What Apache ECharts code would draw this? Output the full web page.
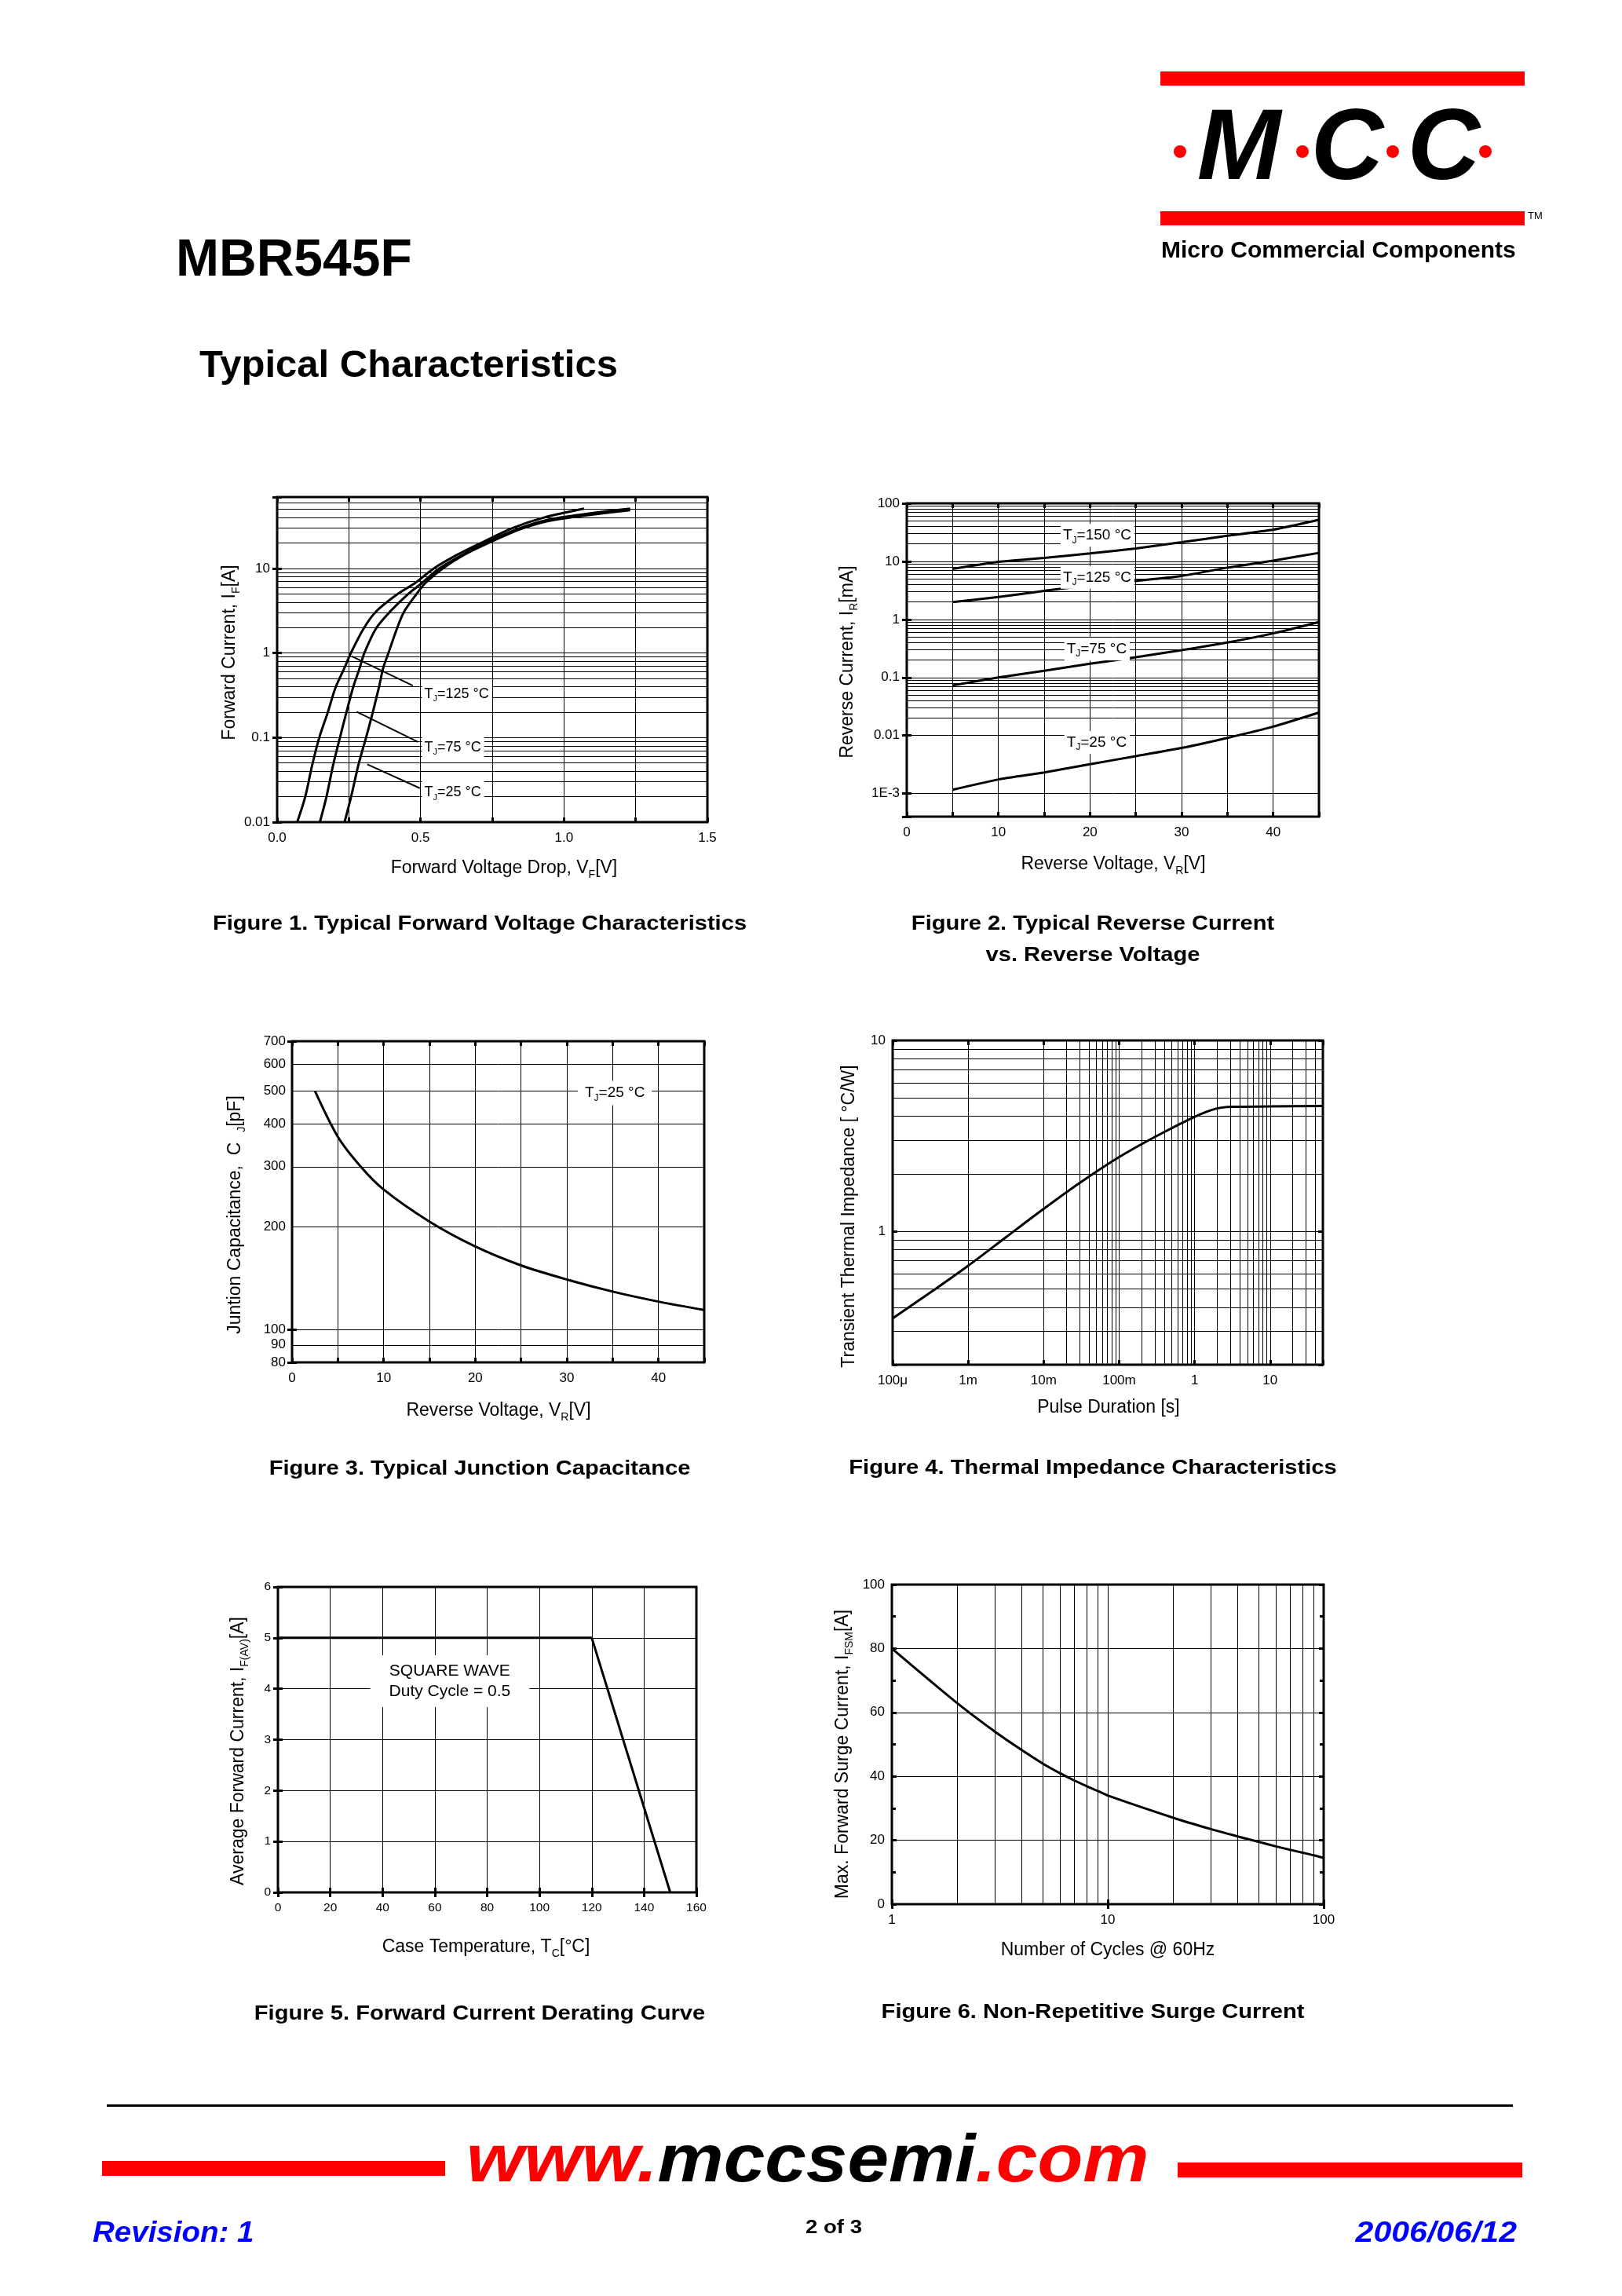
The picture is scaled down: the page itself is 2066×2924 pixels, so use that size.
<!DOCTYPE html>
<html><head><meta charset="utf-8">
<script src="https://cdn.jsdelivr.net/npm/echarts@6.0.0/dist/echarts.min.js"></script>
<style>html,body{margin:0;padding:0;background:#fff}#main{width:2066px;height:2924px}</style>
</head><body><div id="main"></div>
<script>
// ---------------- DATA ----------------
// Figure 1 – forward characteristics (V, A)
const fig1V_125 = [0.07,0.098,0.122,0.147,0.176,0.204,0.235,0.257,0.302,0.345,0.418,0.48,0.546,0.626,0.71,0.82,0.93,1.07];
const fig1I_125 = [0.01,0.02,0.047,0.1,0.196,0.394,0.67,1,1.96,3.1,4.93,6.7,10,14.4,20,30,40,51];
const fig1V_75  = [0.149,0.172,0.195,0.219,0.241,0.265,0.288,0.304,0.345,0.394,0.455,0.504,0.565,0.644,0.724,0.846,0.968,1.231];
const fig1I_75  = [0.01,0.02,0.047,0.1,0.196,0.394,0.67,1,1.96,3.1,4.93,6.7,10,14.4,20,30,39,51];
const fig1V_25  = [0.235,0.258,0.283,0.31,0.333,0.355,0.37,0.388,0.418,0.443,0.485,0.516,0.577,0.65,0.736,0.858,0.968,1.231];
const fig1I_25  = [0.01,0.02,0.047,0.1,0.196,0.394,0.67,1,1.96,3.1,4.93,6.7,10,14.4,20,30,37.7,49];
const fig1XTicks = [0,0.5,1,1.5];
const fig1XLabels = ['0.0','0.5','1.0','1.5'];
const fig1YTicks = [0.01,0.1,1,10];
const fig1YLabels = ['0.01','0.1','1','10'];
const fig1MinorY = [0.02,0.03,0.04,0.05,0.06,0.07,0.08,0.09,0.2,0.3,0.4,0.5,0.6,0.7,0.8,0.9,2,3,4,5,6,7,8,9,20,30,40,50,60];
const fig1Temps = ['125','75','25'];

// Figure 2 – reverse current (V, mA)
const fig2V = [5,10,15,20,25,30,35,40,45];
const fig2I_150 = [7.4,9.8,11.5,13.7,16.7,21.4,27.6,35.2,52];
const fig2I_125 = [1.99,2.43,3.1,3.9,4.6,5.6,7.8,10.3,14];
const fig2I_75  = [0.073,0.1,0.13,0.172,0.223,0.295,0.4,0.575,0.9];
const fig2I_25  = [0.00116,0.00175,0.0023,0.0032,0.0044,0.0061,0.0091,0.0142,0.0248];
const fig2XTicks = [0,10,20,30,40];
const fig2XLabels = ['0','10','20','30','40'];
const fig2YTicks = [0.001,0.01,0.1,1,10,100];
const fig2YLabels = ['1E-3','0.01','0.1','1','10','100'];
const fig2MinorY = [0.0005,0.0006,0.0007,0.0008,0.0009,0.002,0.003,0.004,0.005,0.006,0.007,0.008,0.009,0.02,0.03,0.04,0.05,0.06,0.07,0.08,0.09,0.2,0.3,0.4,0.5,0.6,0.7,0.8,0.9,2,3,4,5,6,7,8,9,20,30,40,50,60,70,80,90];
const fig2Temps = ['150','125','75','25'];

// Figure 3 – junction capacitance (V, pF)
const fig3V = [2.5,5,7.5,10,15,20,25,30,35,40,45];
const fig3C = [500,367,300,257,207,175,154,140,129,120.6,114];
const fig3YTicks = [80,90,100,200,300,400,500,600,700];
const fig3YLabels = ['80','90','100','200','300','400','500','600','700'];

// Figure 4 – transient thermal impedance (s, °C/W)
const fig4T = [0.0001,0.000297,0.001,0.00316,0.01,0.0305,0.1,0.31,1,1.89,3.14,10,50];
const fig4Z = [0.35,0.47,0.66,0.93,1.31,1.8,2.45,3.15,3.98,4.38,4.49,4.51,4.53];
const fig4XTicks = [0.0001,0.001,0.01,0.1,1,10];
const fig4XLabels = ['100\u03bc','1m','10m','100m','1','10'];
const fig4YTicks = [1,10];
const fig4YLabels = ['1','10'];
const fig4MinorY = [0.3,0.4,0.5,0.6,0.7,0.8,0.9,2,3,4,5,6,7,8,9];
const fig4MinorX = [0.0002,0.0003,0.0004,0.0005,0.0006,0.0007,0.0008,0.0009,0.002,0.003,0.004,0.005,0.006,0.007,0.008,0.009,0.02,0.03,0.04,0.05,0.06,0.07,0.08,0.09,0.2,0.3,0.4,0.5,0.6,0.7,0.8,0.9,2,3,4,5,6,7,8,9,20,30,40];

// Figure 5 – derating (°C, A)
const fig5T = [0,120,150];
const fig5I = [5,5,0];

// Figure 6 – surge current (cycles, A)
const fig6N = [1,2,3,4,5,6,7,8,9,10,20,30,40,50,60,70,80,90,100];
const fig6I = [80,63,54,48.2,44.0,41.0,38.7,36.9,35.4,34,27.1,23.5,21.2,19.5,18.1,17.0,16.1,15.3,14.5];
const fig6XTicks = [1,10,100];
const fig6XLabels = ['1','10','100'];
const fig6MinorX = [2,3,4,5,6,7,8,9,20,30,40,50,60,70,80,90];

// ---------------- BUILD ----------------
const BLACK = '#000000', RED = '#FF0000', BLUE = '#0000FF';
const FF = '"Liberation Sans", Arial, Helvetica, sans-serif';
const TICK = {show:true, inside:true, length:6, lineStyle:{color:BLACK, width:3}};
const GRIDLINE = {show:true, lineStyle:{color:BLACK, width:1, type:'solid'}};

function fmtFrom(ticks, labels) {
  return function (v) {
    for (let i = 0; i < ticks.length; i++) {
      const t = ticks[i];
      if (t === 0 ? Math.abs(v) < 1e-9 : Math.abs(v / t - 1) < 1e-6) return labels[i];
    }
    return '';
  };
}

const grids = [], xAxes = [], yAxes = [], series = [];

function addGrid(rect, xBase, yBase, o) {
  o = o || {};
  const g = grids.length;
  grids.push(Object.assign({show:true, borderColor:BLACK, borderWidth:3, backgroundColor:'rgba(0,0,0,0)', containLabel:false, outerBoundsMode:'none'}, rect));
  const lab = (extra, margin) => Object.assign({show:true, color:BLACK, fontFamily:FF, fontSize:o.fs || 17, margin:margin, hideOverlap:false}, extra || {});
  const minor = o.yMinor ? {show:true, splitNumber:o.yMinor, length:5, lineStyle:{color:BLACK, width:3}} : {show:false};
  xAxes.push(Object.assign({}, xBase, {gridIndex:g, position:'bottom', axisLine:{show:false}, axisTick:TICK, axisLabel:lab(o.xLabel, 12), splitLine:GRIDLINE}));
  xAxes.push(Object.assign({}, xBase, {gridIndex:g, position:'top', axisLine:{show:false}, axisTick:TICK, axisLabel:{show:false}, splitLine:{show:false}}));
  yAxes.push(Object.assign({}, yBase, {gridIndex:g, position:'left', axisLine:{show:false}, axisTick:TICK, minorTick:minor,
    axisLabel: o.yLabel === false ? {show:false} : lab(o.yLabel, 9),
    splitLine: o.ySplit === false ? {show:false} : GRIDLINE}));
  yAxes.push(Object.assign({}, yBase, {gridIndex:g, position:'right', axisLine:{show:false}, axisTick:TICK, minorTick:minor, axisLabel:{show:false}, splitLine:{show:false}}));
  return g;
}

function curve(g, xs, ys, extra) {
  return Object.assign({
    type:'line', xAxisIndex:2*g, yAxisIndex:2*g,
    data: xs.map((x, i) => [x, ys[i]]),
    symbol:'none', showSymbol:false, silent:true, z:3,
    lineStyle:{color:BLACK, width:3}, itemStyle:{color:BLACK},
    smooth:0.3, emphasis:{disabled:true}
  }, extra || {});
}

function gridMarks(yVals, xVals, label) {
  return {
    silent:true, symbol:['none','none'], z:1, animation:false, emphasis:{disabled:true},
    label: label || {show:false},
    lineStyle:{color:BLACK, width:1, type:'solid'},
    data: [].concat((yVals || []).map(v => ({yAxis:v})), (xVals || []).map(v => ({xAxis:v})))
  };
}

function tjNotes(items, fs) {
  return {
    silent:true, z:10, symbol:'circle', symbolSize:0, animation:false, emphasis:{disabled:true},
    itemStyle:{color:'rgba(0,0,0,0)'},
    label:{show:true, position:'right', distance:0, backgroundColor:'#ffffff', padding:[2,4,2,3],
      rich:{
        a:{fontSize:fs, fontFamily:FF, color:BLACK, lineHeight:fs + 6},
        s:{fontSize:Math.round(fs * 0.62), fontFamily:FF, color:BLACK, verticalAlign:'bottom'}
      }},
    data: items.map(it => ({coord:it.coord, label:{formatter:'{a|T}{s|J}{a|=' + it.t + ' \u00b0C}'}}))
  };
}

// ---- Figure 1 ----
const g1 = addGrid({left:353, top:633, width:548, height:414},
  {type:'value', min:0, max:1.5, interval:0.25},
  {type:'log', logBase:10, min:0.01, max:70},
  {xLabel:{formatter:fmtFrom(fig1XTicks, fig1XLabels)}, yLabel:{formatter:fmtFrom(fig1YTicks, fig1YLabels)}});
series.push(curve(g1, fig1V_125, fig1I_125, {markLine:gridMarks(fig1MinorY)}));
series.push(curve(g1, fig1V_75, fig1I_75, {markLine:{
  silent:true, z:6, animation:false, symbol:['none','arrow'], symbolSize:[0,13], emphasis:{disabled:true},
  label:{show:false}, lineStyle:{color:BLACK, width:2, type:'solid'},
  data:[
    [{coord:[0.473,0.412]},{coord:[0.259,0.92]}],
    [{coord:[0.491,0.089]},{coord:[0.277,0.202]}],
    [{coord:[0.4976,0.0252]},{coord:[0.314,0.0483]}]
  ]}}));
series.push(curve(g1, fig1V_25, fig1I_25, {markPoint:tjNotes([
  {coord:[0.505,0.327], t:fig1Temps[0]},
  {coord:[0.505,0.0766], t:fig1Temps[1]},
  {coord:[0.505,0.0225], t:fig1Temps[2]}], 18)}));

// ---- Figure 2 ----
const g2 = addGrid({left:1155, top:641, width:525, height:399},
  {type:'value', min:0, max:45, interval:5},
  {type:'log', logBase:10, min:0.0004, max:100},
  {xLabel:{formatter:fmtFrom(fig2XTicks, fig2XLabels)}, yLabel:{formatter:fmtFrom(fig2YTicks, fig2YLabels)}});
series.push(curve(g2, fig2V, fig2I_150, {smooth:0.2, markLine:gridMarks(fig2MinorY)}));
series.push(curve(g2, fig2V, fig2I_125, {smooth:0.2, markPoint:tjNotes([
  {coord:[16.8,28], t:fig2Temps[0]},
  {coord:[16.8,5.3], t:fig2Temps[1]},
  {coord:[17.2,0.31], t:fig2Temps[2]},
  {coord:[17.2,0.0076], t:fig2Temps[3]}], 19)}));
series.push(curve(g2, fig2V, fig2I_75, {smooth:0.2}));
series.push(curve(g2, fig2V, fig2I_25, {smooth:0.2}));

// ---- Figure 3 ----
const g3 = addGrid({left:372, top:1326, width:525, height:409},
  {type:'value', min:0, max:45, interval:5},
  {type:'log', logBase:10, min:80, max:700},
  {xLabel:{formatter:fmtFrom(fig2XTicks, fig2XLabels)}, yLabel:false, ySplit:false});
const fig3Marks = gridMarks([], [], {show:true, position:'start', distance:8, color:BLACK, fontFamily:FF, fontSize:17, formatter:'{b}'});
fig3Marks.data = fig3YTicks.map((v, i) => ({yAxis:v, name:fig3YLabels[i]}));
const fig3Note = tjNotes([{coord:[31.2,493], t:'25'}], 19);
fig3Note.label.padding = [3,9,3,9];
series.push(curve(g3, fig3V, fig3C, {smooth:0.3, markLine:fig3Marks, markPoint:fig3Note}));

// ---- Figure 4 ----
const g4 = addGrid({left:1137, top:1325, width:548, height:413},
  {type:'log', logBase:10, min:0.0001, max:50},
  {type:'log', logBase:10, min:0.2, max:10},
  {xLabel:{formatter:fmtFrom(fig4XTicks, fig4XLabels)}, yLabel:{formatter:fmtFrom(fig4YTicks, fig4YLabels)}});
series.push(curve(g4, fig4T, fig4Z, {smooth:0.3, markLine:gridMarks(fig4MinorY, fig4MinorX)}));

// ---- Figure 5 ----
const g5 = addGrid({left:354, top:2021, width:533, height:389},
  {type:'value', min:0, max:160, interval:20},
  {type:'value', min:0, max:6, interval:1},
  {fs:15.5});
series.push(curve(g5, fig5T, fig5I, {smooth:false, markPoint:{
  silent:true, z:10, symbol:'circle', symbolSize:0, animation:false, emphasis:{disabled:true},
  itemStyle:{color:'rgba(0,0,0,0)'},
  label:{show:true, position:'inside', backgroundColor:'#ffffff', padding:[7,24,7,24],
    color:BLACK, fontFamily:FF, fontSize:21, lineHeight:26, align:'center',
    formatter:'SQUARE WAVE\nDuty Cycle = 0.5'},
  data:[{coord:[65.7,4.15]}]}}));

// ---- Figure 6 ----
const g6 = addGrid({left:1136, top:2018, width:550, height:407},
  {type:'log', logBase:10, min:1, max:100},
  {type:'value', min:0, max:100, interval:20},
  {xLabel:{formatter:fmtFrom(fig6XTicks, fig6XLabels)}, yMinor:2});
series.push(curve(g6, fig6N, fig6I, {smooth:0.3, markLine:gridMarks([], fig6MinorX)}));

// ---------------- PAGE TEXT / GRAPHICS ----------------
const gr = [];
function txt(x, y, text, st, el) {
  const style = Object.assign({text:text, fill:BLACK, fontFamily:FF, fontSize:20, fontWeight:'normal',
    align:'left', textAlign:'left', verticalAlign:'middle', textVerticalAlign:'middle'}, st || {});
  if (style.align) style.textAlign = style.align;
  gr.push(Object.assign({type:'text', x:x, y:y, silent:true, z:50, style:style}, el || {}));
}
function richTitle(x, y, parts, rotate) {
  const s = parts.map(p => (p[1] ? '{s|' : '{a|') + p[0] + '}').join('');
  txt(x, y, s, {align:'center', rich:{
    a:{fontSize:23, fontFamily:FF, fill:BLACK, lineHeight:30},
    s:{fontSize:14, fontFamily:FF, fill:BLACK, verticalAlign:'bottom'}
  }}, rotate ? {rotation:Math.PI / 2} : {});
}
function rect(x, y, w, h, fill) {
  gr.push({type:'rect', silent:true, z:40, shape:{x:x, y:y, width:w, height:h}, style:{fill:fill}});
}

// header
txt(224, 333, 'MBR545F', {fontSize:66, fontWeight:'bold'});
txt(254, 466, 'Typical Characteristics', {fontSize:49, fontWeight:'bold'});

// logo
rect(1478, 91, 464, 18, RED);
rect(1478, 269, 464, 18, RED);
[1503, 1659, 1774, 1892].forEach(cx => gr.push({type:'circle', silent:true, z:40, shape:{cx:cx, cy:193, r:8}, style:{fill:RED}}));
[['M',1578],['C',1716],['C',1839]].forEach(p => txt(p[1], 193, p[0], {fontSize:128, fontWeight:'bold', fontStyle:'italic', align:'center'}));
txt(1946, 275, 'TM', {fontSize:13});
txt(1479, 320, 'Micro Commercial Components', {fontSize:30, fontWeight:'bold'});

// axis titles
richTitle(642, 1106, [['Forward Voltage Drop, V'],['F',1],['[V]']]);
richTitle(293, 831, [['Forward Current, I'],['F',1],['[A]']], true);
richTitle(1418, 1101, [['Reverse Voltage, V'],['R',1],['[V]']]);
richTitle(1080, 843, [['Reverse Current, I'],['R',1],['[mA]']], true);
richTitle(635, 1797, [['Reverse Voltage, V'],['R',1],['[V]']]);
richTitle(300, 1547, [['Juntion Capacitance,  C  '],['J',1],['[pF]']], true);
richTitle(1412, 1793, [['Pulse Duration [s]']]);
richTitle(1082, 1549, [['Transient Thermal Impedance [ \u00b0C/W]']], true);
richTitle(619, 2480, [['Case Temperature, T'],['C',1],['[\u00b0C]']]);
richTitle(304, 2230, [['Average Forward Current, I'],['F(AV)',1],['[A]']], true);
richTitle(1411, 2484, [['Number of Cycles @ 60Hz']]);
richTitle(1074, 2234, [['Max. Forward Surge Current, I'],['FSM',1],['[A]']], true);

// figure captions
const cap = {fontSize:26, fontWeight:'bold', align:'center'};
txt(611, 1177, 'Figure 1. Typical Forward Voltage Characteristics', cap, {scaleX:1.12});
txt(1392, 1177, 'Figure 2. Typical Reverse Current', cap, {scaleX:1.12});
txt(1392, 1217, 'vs. Reverse Voltage', cap, {scaleX:1.12});
txt(611, 1871, 'Figure 3. Typical Junction Capacitance', cap, {scaleX:1.12});
txt(1392, 1870, 'Figure 4. Thermal Impedance Characteristics', cap, {scaleX:1.12});
txt(611, 2565, 'Figure 5. Forward Current Derating Curve', cap, {scaleX:1.12});
txt(1392, 2563, 'Figure 6. Non-Repetitive Surge Current', cap, {scaleX:1.12});

// footer
rect(136, 2680, 1791, 3, BLACK);
rect(130, 2752, 437, 19, RED);
rect(1500, 2754, 439, 19, RED);
txt(594, 2754, '{r|www.}{k|mccsemi}{r|.com}', {rich:{
  r:{fontSize:86, fontWeight:'bold', fontStyle:'italic', fontFamily:FF, fill:RED},
  k:{fontSize:86, fontWeight:'bold', fontStyle:'italic', fontFamily:FF, fill:BLACK}
}}, {scaleX:1.1});
txt(118, 2845, 'Revision: 1', {fontSize:36, fontWeight:'bold', fontStyle:'italic', fill:BLUE}, {scaleX:1.07});
txt(1932, 2845, '2006/06/12', {fontSize:36, fontWeight:'bold', fontStyle:'italic', fill:BLUE, align:'right'}, {scaleX:1.14});
txt(1062, 2837, '2 of 3', {fontSize:24, fontWeight:'bold', align:'center'}, {scaleX:1.15});

const chart = echarts.init(document.getElementById('main'), null, {renderer:'canvas', width:2066, height:2924});
chart.setOption({
  animation:false,
  backgroundColor:'#ffffff',
  textStyle:{fontFamily:FF},
  grid:grids, xAxis:xAxes, yAxis:yAxes, series:series,
  graphic:{elements:gr}
});
</script></body></html>
